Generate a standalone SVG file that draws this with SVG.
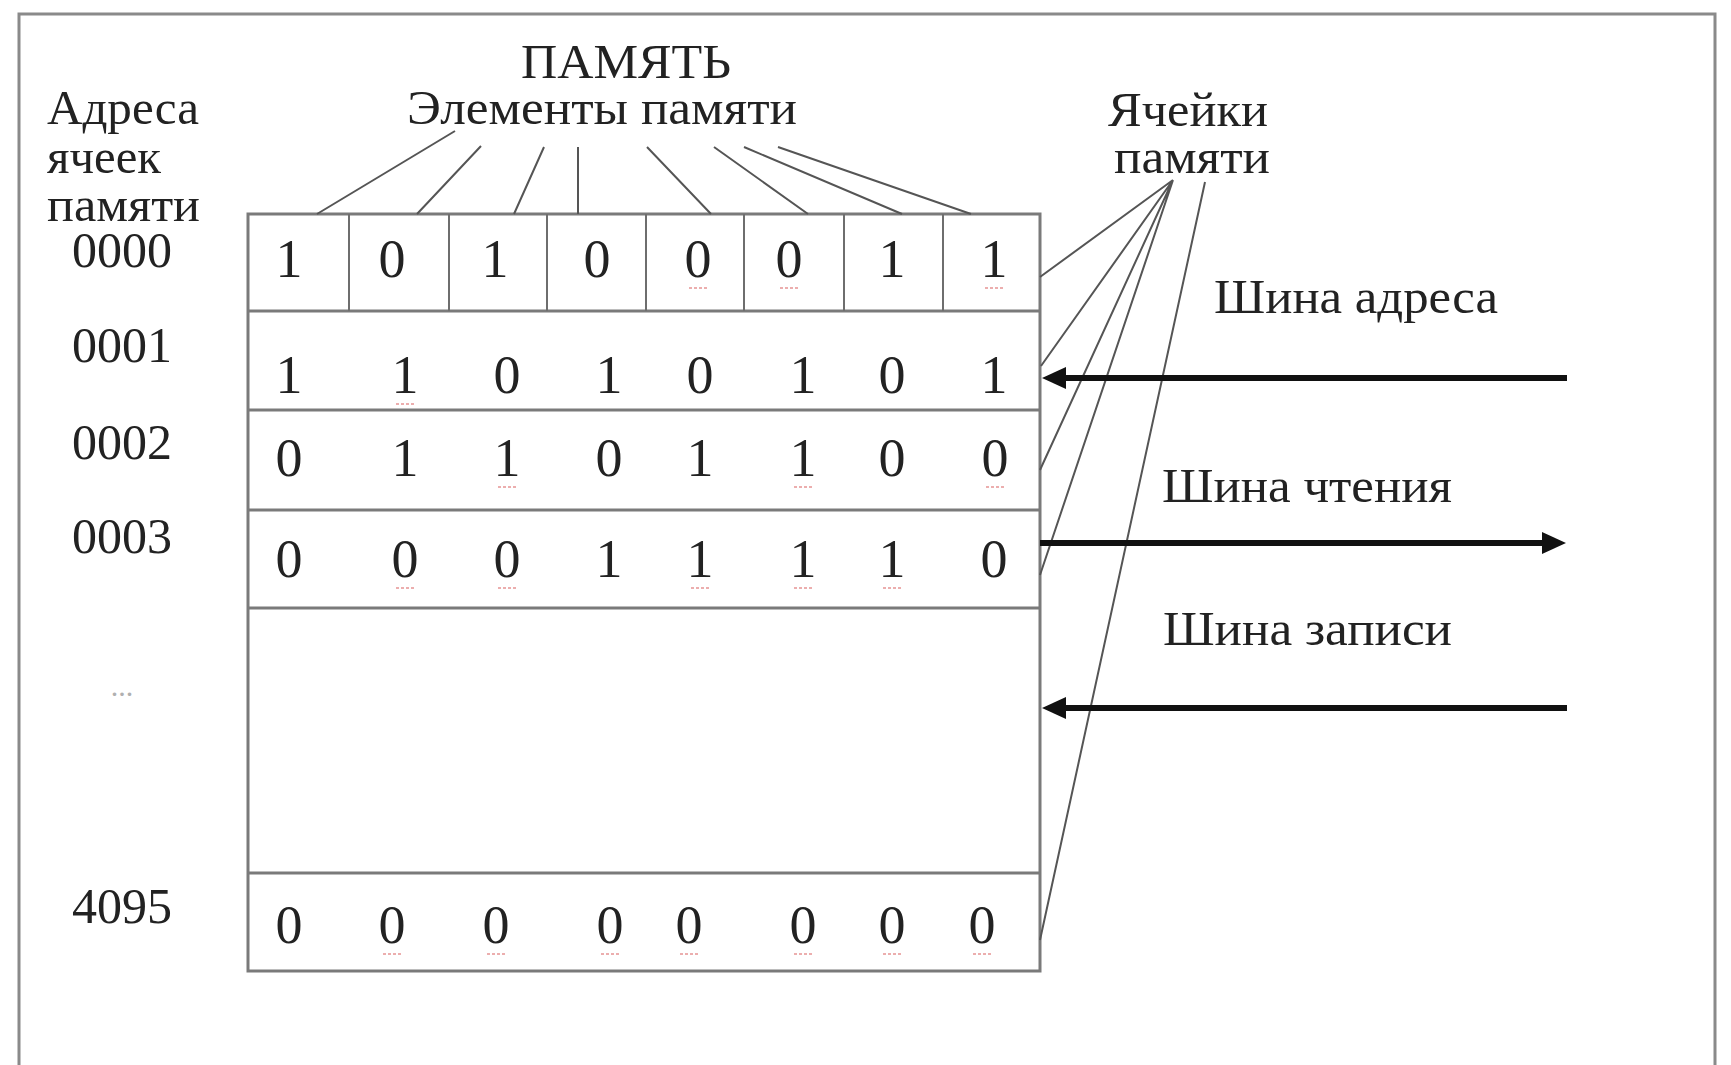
<svg xmlns="http://www.w3.org/2000/svg" width="1731" height="1065" viewBox="0 0 1731 1065">
<style>
text{font-family:"Liberation Serif","Times New Roman",serif;fill:#222}
.lbl{font-size:48px}
.addr{font-size:50px;text-anchor:middle}
.bit{font-size:54px;text-anchor:middle}
.grid{stroke:#7a7a7a;stroke-width:3;fill:none}
.div{stroke:#6e6e6e;stroke-width:2;fill:none}
.lead{stroke:#555;stroke-width:2;fill:none}
.bus{stroke:#111;stroke-width:6;fill:none}
.sq{stroke:#e07a7a;stroke-width:2;stroke-dasharray:3 2;opacity:.6}
</style>
<defs>
<marker id="ah" markerUnits="userSpaceOnUse" markerWidth="26" markerHeight="24" refX="6" refY="11" orient="auto">
<path d="M0,0 L24,11 L0,22 z" fill="#111"/>
</marker>
</defs>
<rect width="1731" height="1065" fill="#fff"/>
<g id="frame">
<path d="M19,1065 V14 H1715 V1065" fill="none" stroke="#8a8a8a" stroke-width="3"/>
</g>
<g id="titles">
<text class="lbl" x="626" y="78" text-anchor="middle" textLength="210" lengthAdjust="spacingAndGlyphs">ПАМЯТЬ</text>
<text class="lbl" x="602" y="124" text-anchor="middle" textLength="390" lengthAdjust="spacingAndGlyphs">Элементы памяти</text>
<text class="lbl" x="1188" y="126" text-anchor="middle" textLength="160" lengthAdjust="spacingAndGlyphs">Ячейки</text>
<text class="lbl" x="1192" y="173" text-anchor="middle" textLength="156" lengthAdjust="spacingAndGlyphs">памяти</text>
<text class="lbl" x="47" y="124" textLength="152" lengthAdjust="spacingAndGlyphs">Адреса</text>
<text class="lbl" x="47" y="173" textLength="114" lengthAdjust="spacingAndGlyphs">ячеек</text>
<text class="lbl" x="47" y="221" textLength="153" lengthAdjust="spacingAndGlyphs">памяти</text>
</g>
<g id="addresses">
<text class="addr" x="122" y="267">0000</text>
<text class="addr" x="122" y="362">0001</text>
<text class="addr" x="122" y="459">0002</text>
<text class="addr" x="122" y="553">0003</text>
<text x="122" y="696" font-size="30" text-anchor="middle" style="fill:#b0b0b0">...</text>
<text class="addr" x="122" y="923">4095</text>
</g>
<g id="memory">
<path class="grid" d="M248,214 H1040 V971 H248 Z M248,311 H1040 M248,410 H1040 M248,510 H1040 M248,608 H1040 M248,873 H1040"/>
<path class="div" d="M349,214 V311 M449,214 V311 M547,214 V311 M646,214 V311 M744,214 V311 M844,214 V311 M943,214 V311"/>
</g>
<g id="row-0000">
<text class="bit" x="289" y="277">1</text><text class="bit" x="392" y="277">0</text><text class="bit" x="495" y="277">1</text><text class="bit" x="597" y="277">0</text><text class="bit" x="698" y="277">0</text><text class="bit" x="789" y="277">0</text><text class="bit" x="892" y="277">1</text><text class="bit" x="994" y="277">1</text>
</g>
<g id="row-0001">
<text class="bit" x="289" y="393">1</text><text class="bit" x="405" y="393">1</text><text class="bit" x="507" y="393">0</text><text class="bit" x="609" y="393">1</text><text class="bit" x="700" y="393">0</text><text class="bit" x="803" y="393">1</text><text class="bit" x="892" y="393">0</text><text class="bit" x="994" y="393">1</text>
</g>
<g id="row-0002">
<text class="bit" x="289" y="476">0</text><text class="bit" x="405" y="476">1</text><text class="bit" x="507" y="476">1</text><text class="bit" x="609" y="476">0</text><text class="bit" x="700" y="476">1</text><text class="bit" x="803" y="476">1</text><text class="bit" x="892" y="476">0</text><text class="bit" x="995" y="476">0</text>
</g>
<g id="row-0003">
<text class="bit" x="289" y="577">0</text><text class="bit" x="405" y="577">0</text><text class="bit" x="507" y="577">0</text><text class="bit" x="609" y="577">1</text><text class="bit" x="700" y="577">1</text><text class="bit" x="803" y="577">1</text><text class="bit" x="892" y="577">1</text><text class="bit" x="994" y="577">0</text>
</g>
<g id="row-4095">
<text class="bit" x="289" y="943">0</text><text class="bit" x="392" y="943">0</text><text class="bit" x="496" y="943">0</text><text class="bit" x="610" y="943">0</text><text class="bit" x="689" y="943">0</text><text class="bit" x="803" y="943">0</text><text class="bit" x="892" y="943">0</text><text class="bit" x="982" y="943">0</text>
</g>
<g id="marks">
<path class="sq" d="M689,288 h18 M780,288 h18 M985,288 h18 M396,404 h18 M498,487 h18 M794,487 h18 M986,487 h18 M396,588 h18 M498,588 h18 M691,588 h18 M794,588 h18 M883,588 h18 M383,954 h18 M487,954 h18 M601,954 h18 M680,954 h18 M794,954 h18 M883,954 h18 M973,954 h18"/>
</g>
<g id="bus-labels">
<text class="lbl" x="1214" y="313" textLength="284" lengthAdjust="spacingAndGlyphs">Шина адреса</text>
<text class="lbl" x="1162" y="502" textLength="290" lengthAdjust="spacingAndGlyphs">Шина чтения</text>
<text class="lbl" x="1163" y="645" textLength="289" lengthAdjust="spacingAndGlyphs">Шина записи</text>
</g>
<g id="connectors">
<path class="lead" d="M455,131 L317,214 M481,146 L417,214 M544,147 L514,214 M578,147 L578,214 M647,147 L711,214 M714,147 L808,214 M744,147 L902,214 M778,147 L971,214"/>
<path class="lead" d="M1173,180 L1040,277 M1173,180 L1041,366 M1173,180 L1040,470 M1173,180 L1040,575 M1205,182 L1040,940"/>
<line class="bus" x1="1567" y1="378" x2="1060" y2="378" marker-end="url(#ah)"/>
<line class="bus" x1="1040" y1="543" x2="1548" y2="543" marker-end="url(#ah)"/>
<line class="bus" x1="1567" y1="708" x2="1060" y2="708" marker-end="url(#ah)"/>
</g>
</svg>
